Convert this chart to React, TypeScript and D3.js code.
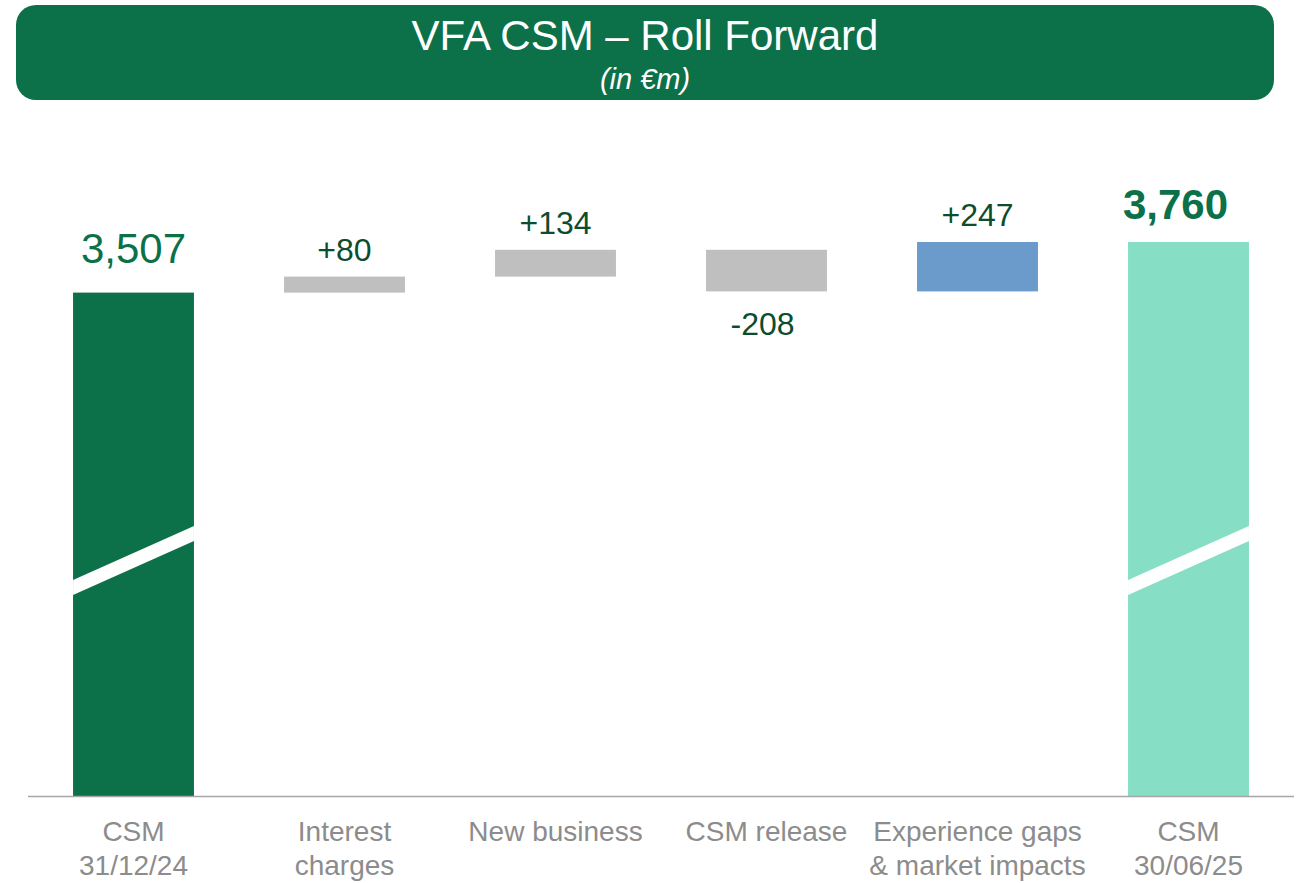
import React from "react";
import * as d3 from "d3";

const categories = [
  ["CSM", "31/12/24"],
  ["Interest", "charges"],
  ["New business"],
  ["CSM release"],
  ["Experience gaps", "& market impacts"],
  ["CSM", "30/06/25"],
];
const kinds = ["total", "delta", "delta", "delta", "delta", "total"];
const values = [3507, 80, 134, -208, 247, 3760];
const valueLabels = ["3,507", "+80", "+134", "-208", "+247", "3,760"];
const barColors = ["#0c7049", "#bfbfbf", "#bfbfbf", "#bfbfbf", "#6b9bcb", "#86dec5"];

const W = 1297;
const H = 883;
const green = "#0c7049";
const labelGreen = "#0d4d2f";

export default function App() {
  // waterfall steps
  let running = 0;
  const bars = values.map((v, i) => {
    if (kinds[i] === "total") {
      running = v;
      return { lo: 990, hi: v, i };
    }
    const start = running;
    running += v;
    return { lo: Math.min(start, running), hi: Math.max(start, running), i };
  });

  const x = d3
    .scaleBand<number>()
    .domain(d3.range(categories.length))
    .range([28, 1294])
    .paddingInner(0.427)
    .paddingOuter(0.2135);
  // broken axis: bottom of bars is 990, not 0
  const y = d3.scaleLinear().domain([990, 3760]).range([796, 242]);
  const breakValue = 2160;

  return (
    <svg
      width={W}
      height={H}
      style={{ position: "absolute", left: 0, top: 0, fontFamily: "Liberation Sans, Arial, sans-serif" }}
    >
      {/* title banner */}
      <rect x={16} y={5} width={1258} height={95} rx={20} ry={20} fill={green} />
      <text x={645} y={50} fill="#fff" fontSize={42} textAnchor="middle">
        VFA CSM – Roll Forward
      </text>
      <text x={645} y={89} fill="#fff" fontSize={29} fontStyle="italic" textAnchor="middle">
        (in €m)
      </text>

      {bars.map((b) => {
        const bx = x(b.i)!;
        const bw = x.bandwidth();
        const top = y(b.hi);
        const bottom = y(b.lo);
        const isTotal = kinds[b.i] === "total";
        let cx = bx + bw / 2;
        let ly = top - 16;
        let fs = 32;
        let fill = labelGreen;
        let weight = "normal";
        if (isTotal) {
          fs = 42;
          fill = green;
          ly = b.i === 0 ? top - 30 : top - 23;
          if (b.i === 5) {
            weight = "bold";
            cx -= 13;
          }
        } else if (values[b.i] < 0) {
          ly = bottom + 44;
          cx -= 4;
        }
        const yb = y(breakValue);
        return (
          <g key={b.i}>
            <rect x={bx} y={top} width={bw} height={bottom - top} fill={barColors[b.i]} />
            {isTotal && (
              <polygon
                points={`${bx},${yb + 18} ${bx + bw},${yb - 36} ${bx + bw},${yb - 21} ${bx},${yb + 33}`}
                fill="#fff"
              />
            )}
            <text x={cx} y={ly} fontSize={fs} fill={fill} fontWeight={weight} textAnchor="middle">
              {valueLabels[b.i]}
            </text>
          </g>
        );
      })}

      <line x1={28} x2={1294} y1={796.5} y2={796.5} stroke="#a6a6a6" strokeWidth={1.5} />

      {categories.map((lines, i) => (
        <text key={i} x={x(i)! + x.bandwidth() / 2} fontSize={28} fill="#8c8c8c" textAnchor="middle">
          {lines.map((l, j) => (
            <tspan key={j} x={x(i)! + x.bandwidth() / 2} y={841 + j * 34}>
              {l}
            </tspan>
          ))}
        </text>
      ))}
    </svg>
  );
}
